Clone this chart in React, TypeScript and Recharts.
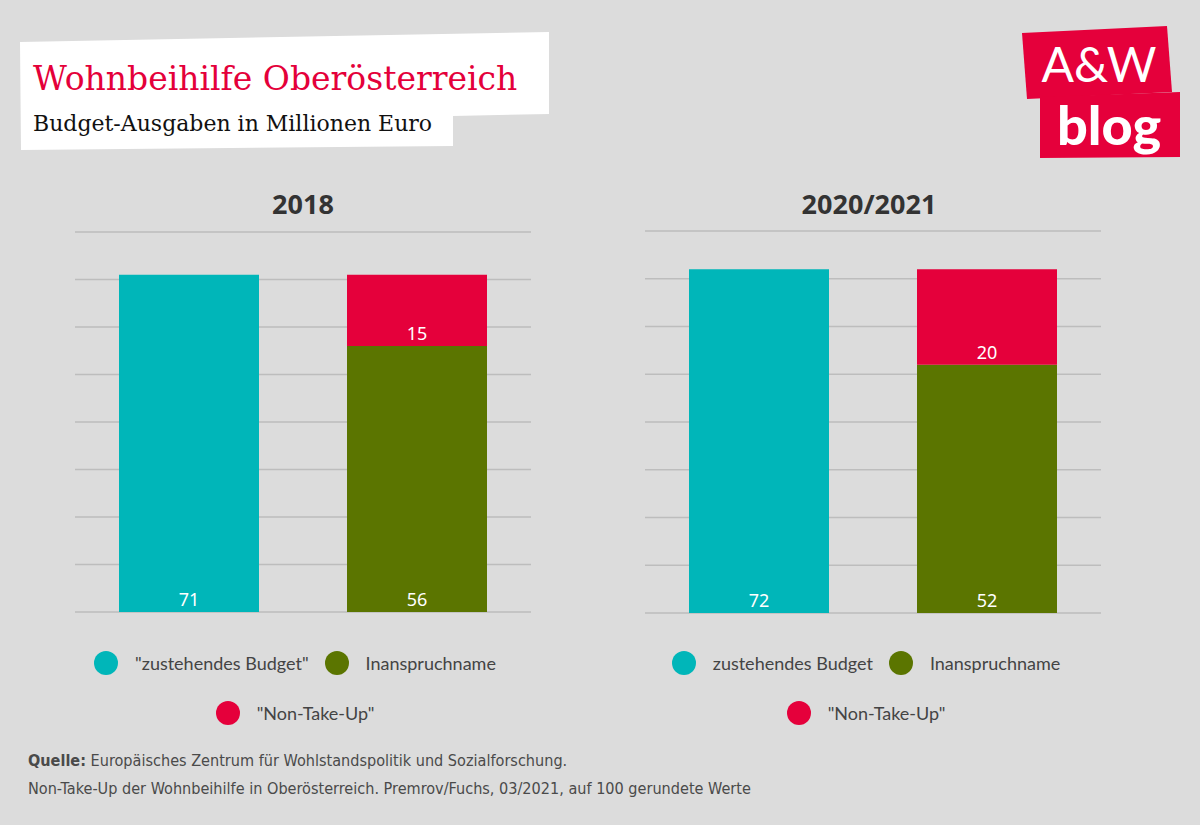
import React from 'react';
import { BarChart, Bar, XAxis, YAxis, CartesianGrid, LabelList } from 'recharts';

// two groups per panel: entitled budget vs. actual use (+ non-take-up on top)
const categories = ['Budget', 'Inanspruchnahme'];
const budget2018 = [71, null];
const takeUp2018 = [null, 56];
const nonTakeUp2018 = [null, 15];
const budget2021 = [72, null];
const takeUp2021 = [null, 52];
const nonTakeUp2021 = [null, 20];
const yTicks = [0, 10, 20, 30, 40, 50, 60, 70, 80];
const legend2018 = ['"zustehendes Budget"', 'Inanspruchname', '"Non-Take-Up"'];
const legend2021 = ['zustehendes Budget', 'Inanspruchname', '"Non-Take-Up"'];

const CYAN = '#00b6b9';
const GREEN = '#5b7500';
const RED = '#e5003b';
const COLORS = [CYAN, GREEN, RED];
const BG = '#dcdcdc';
const FONT = '"Noto Sans", "Open Sans", sans-serif';
const LEGEND_FONT = 'Lato, "Noto Sans", sans-serif';

const buildData = (budget: (number | null)[], takeUp: (number | null)[], nonTakeUp: (number | null)[]) =>
  categories.map((name, i) => ({ name, budget: budget[i], takeUp: takeUp[i], nonTakeUp: nonTakeUp[i] }));

const data2018 = buildData(budget2018, takeUp2018, nonTakeUp2018);
const data2021 = buildData(budget2021, takeUp2021, nonTakeUp2021);

const Dot = ({ color }: { color: string }) => (
  <span style={{ display: 'inline-block', width: 24, height: 24, borderRadius: 12, background: color, marginRight: 17 }} />
);

const LegendItem = ({ color, label }: { color: string; label: string }) => (
  <span style={{ display: 'inline-flex', alignItems: 'center', margin: '0 8px' }}>
    <Dot color={color} />
    <span>{label}</span>
  </span>
);

type PanelProps = {
  left: number;
  top: number;
  height: number;
  title: string;
  titleShift: number;
  data: any[];
  names: string[];
  legendCenter: number;
};

const Panel = ({ left, top, height, title, titleShift, data, names, legendCenter }: PanelProps) => {
  const width = 456;
  const labelProps = { position: 'insideBottom' as const, offset: 6, fill: '#ffffff', fontSize: 18, fontFamily: FONT };
  return (
    <>
      <div
        style={{
          position: 'absolute', left: left + titleShift, width, top: 186, textAlign: 'center',
          fontFamily: FONT, fontWeight: 700, fontSize: 27, color: '#333', lineHeight: '36px',
        }}
      >
        {title}
      </div>
      <div style={{ position: 'absolute', left, top: top - 5 }}>
        <BarChart width={width} height={height + 10} data={data} margin={{ top: 5, right: 0, bottom: 5, left: 0 }}>
          <CartesianGrid vertical={false} stroke="#bdbdbd" strokeWidth={1.5} />
          <XAxis dataKey="name" hide />
          <YAxis hide domain={[0, 80]} ticks={yTicks} />
          <Bar dataKey="budget" stackId="a" fill={CYAN} barSize={140} isAnimationActive={false}>
            <LabelList dataKey="budget" {...labelProps} />
          </Bar>
          <Bar dataKey="takeUp" stackId="a" fill={GREEN} barSize={140} isAnimationActive={false}>
            <LabelList dataKey="takeUp" {...labelProps} />
          </Bar>
          <Bar dataKey="nonTakeUp" stackId="a" fill={RED} barSize={140} isAnimationActive={false}>
            <LabelList dataKey="nonTakeUp" {...labelProps} />
          </Bar>
        </BarChart>
      </div>
      <div
        style={{
          position: 'absolute', left: legendCenter - 300, width: 600, top: 651,
          fontFamily: LEGEND_FONT, fontSize: 18, color: '#444', textAlign: 'center', lineHeight: '24px',
        }}
      >
        <div style={{ display: 'flex', justifyContent: 'center' }}>
          <LegendItem color={COLORS[0]} label={names[0]} />
          <LegendItem color={COLORS[1]} label={names[1]} />
        </div>
        <div style={{ display: 'flex', justifyContent: 'center', marginTop: 26 }}>
          <LegendItem color={COLORS[2]} label={names[2]} />
        </div>
      </div>
    </>
  );
};

export default function App() {
  return (
    <div style={{ position: 'absolute', left: 0, top: 0, width: 1200, height: 825, background: BG, overflow: 'hidden' }}>
      <svg width={1200} height={825} style={{ position: 'absolute', left: 0, top: 0 }}>
        {/* header card */}
        <polygon points="20,42 549,32 549,114 453,116 453,146 21,150" fill="#ffffff" />
        <text x={33} y={90} fill="#e4003a" fontFamily='"DejaVu Serif", serif' fontSize={33}>
          Wohnbeihilfe Oberösterreich
        </text>
        <text x={33} y={131} fill="#111" fontFamily='"DejaVu Serif", serif' fontSize={22}>
          Budget-Ausgaben in Millionen Euro
        </text>
        {/* logo */}
        <polygon points="1022,33 1167,26 1172,92 1027,99" fill="#e5003b" />
        <polygon points="1040,97 1180,92 1180,157 1040,158" fill="#e5003b" />
        <text x={1099} y={82} fill="#fff" textAnchor="middle" fontFamily="Lato, sans-serif" fontWeight={400} fontSize={48}>
          A&amp;W
        </text>
        <text x={1109} y={145} fill="#fff" textAnchor="middle" fontFamily="Lato, sans-serif" fontWeight={900} fontSize={54}>
          blog
        </text>
        {/* source */}
        <text x={28} y={766} fill="#4a4a4a" fontFamily='"Liberation Sans Narrow", "DejaVu Sans Condensed", sans-serif' fontSize={16.1}>
          <tspan fontWeight={700}>Quelle:</tspan> Europäisches Zentrum für Wohlstandspolitik und Sozialforschung.
        </text>
        <text x={28} y={794} fill="#4a4a4a" fontFamily='"Liberation Sans Narrow", "DejaVu Sans Condensed", sans-serif' fontSize={16.1}>
          Non-Take-Up der Wohnbeihilfe in Oberösterreich. Premrov/Fuchs, 03/2021, auf 100 gerundete Werte
        </text>
      </svg>
      <Panel left={75} top={232} height={380} title="2018" titleShift={0} data={data2018} names={legend2018} legendCenter={295} />
      <Panel left={645} top={231} height={382} title="2020/2021" titleShift={-4} data={data2021} names={legend2021} legendCenter={866} />
    </div>
  );
}
